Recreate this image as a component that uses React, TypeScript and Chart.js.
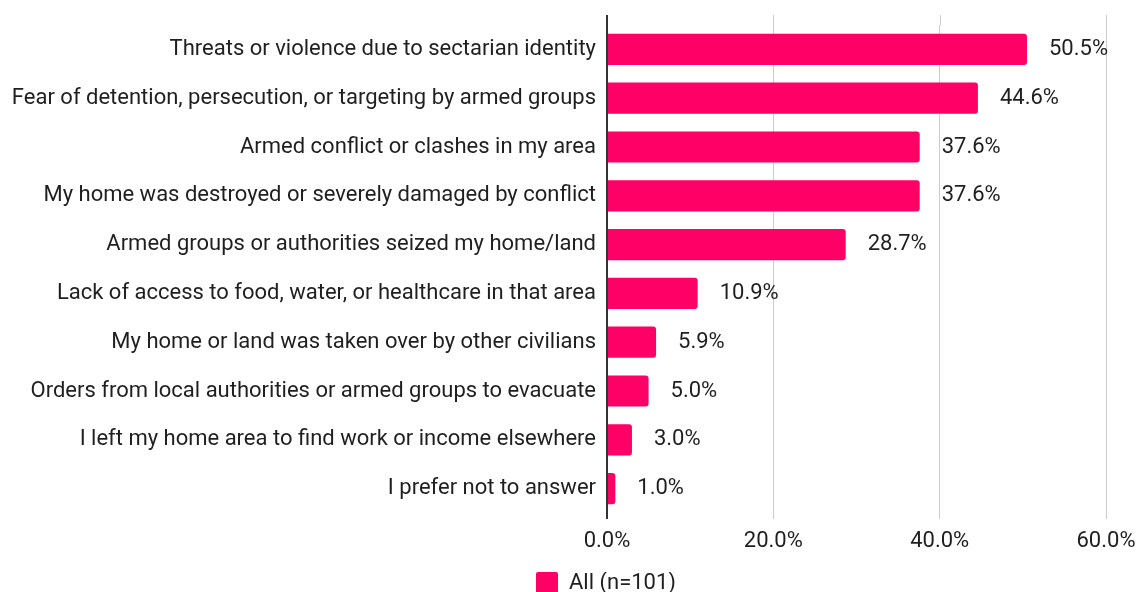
import React, { useEffect, useRef } from "react";
import { Chart, registerables } from "chart.js";

Chart.register(...registerables);

const categories: string[] = [
  "Threats or violence due to sectarian identity",
  "Fear of detention, persecution, or targeting by armed groups",
  "Armed conflict or clashes in my area",
  "My home was destroyed or severely damaged by conflict",
  "Armed groups or authorities seized my home/land",
  "Lack of access to food, water, or healthcare in that area",
  "My home or land was taken over by other civilians",
  "Orders from local authorities or armed groups to evacuate",
  "I left my home area to find work or income elsewhere",
  "I prefer not to answer",
];

const seriesLabel = "All (n=101)";
const values: number[] = [50.5, 44.6, 37.6, 37.6, 28.7, 10.9, 5.9, 5.0, 3.0, 1.0];
const xTicks: number[] = [0, 20, 40, 60];

const BAR_COLOR = "#FF0066";
const TEXT_COLOR = "#1f1f1f";
const FONT_FAMILY = "Roboto, 'Noto Sans', sans-serif";
const FONT_SIZE = 22;
const PAD_LEFT = 106;

const valueLabelPlugin = {
  id: "valueLabels",
  afterDatasetsDraw(chart: any) {
    const ctx = chart.ctx;
    const meta = chart.getDatasetMeta(0);
    ctx.save();
    ctx.font = `${FONT_SIZE}px ${FONT_FAMILY}`;
    ctx.fillStyle = TEXT_COLOR;
    ctx.textAlign = "left";
    ctx.textBaseline = "middle";
    meta.data.forEach((bar: any, i: number) => {
      ctx.fillText(values[i].toFixed(1) + "%", bar.x + 22, bar.y);
    });
    ctx.restore();
  },
};

const gridExtendPlugin = {
  id: "gridExtend",
  beforeDatasetsDraw(chart: any) {
    const ctx = chart.ctx;
    const xs = chart.scales.x;
    const top = chart.chartArea.top;
    ctx.save();
    xs.ticks.forEach((t: any) => {
      const zero = t.value === 0;
      const px = xs.getPixelForValue(t.value);
      ctx.strokeStyle = zero ? "#333333" : "#cccccc";
      ctx.lineWidth = zero ? 2 : 1;
      ctx.beginPath();
      ctx.moveTo(zero ? px : Math.round(px) + 0.5, top - 10);
      ctx.lineTo(zero ? px : Math.round(px) + 0.5, top);
      ctx.stroke();
    });
    ctx.restore();
  },
};

export default function App() {
  const canvasRef = useRef<HTMLCanvasElement | null>(null);

  useEffect(() => {
    if (!canvasRef.current) return;
    const chart = new Chart(canvasRef.current, {
      type: "bar",
      data: {
        labels: categories,
        datasets: [
          {
            label: seriesLabel,
            data: values,
            backgroundColor: BAR_COLOR,
            borderColor: BAR_COLOR,
            borderWidth: 0,
            borderRadius: 3,
            borderSkipped: "start",
            categoryPercentage: 1,
            barPercentage: 0.64,
          },
        ],
      },
      options: {
        indexAxis: "y",
        animation: false,
        responsive: true,
        maintainAspectRatio: false,
        layout: { padding: { top: 25, right: 31, left: PAD_LEFT, bottom: -12 } },
        scales: {
          x: {
            min: 0,
            max: 60,
            afterBuildTicks: (scale: any) => {
              scale.ticks = xTicks.map((v) => ({ value: v }));
            },
            afterFit: (scale: any) => {
              scale.height = 59;
              scale.paddingLeft = 0;
              scale.paddingRight = 0;
            },
            grid: {
              color: (c: any) => (c.tick && c.tick.value === 0 ? "#333333" : "#cccccc"),
              lineWidth: (c: any) => (c.tick && c.tick.value === 0 ? 2 : 1),
              drawTicks: true,
              tickLength: 6,
            },
            border: { display: false },
            ticks: {
              color: TEXT_COLOR,
              font: { family: FONT_FAMILY, size: FONT_SIZE },
              padding: 9,
              maxRotation: 0,
              callback: (v: any) => Number(v).toFixed(1) + "%",
            },
          },
          y: {
            grid: { display: false, drawTicks: false },
            border: { display: false },
            afterFit: (scale: any) => {
              scale.width = 607 - PAD_LEFT;
              scale.paddingTop = 0;
              scale.paddingBottom = 0;
              // let the long category labels extend past the axis box
              scale._computeLabelArea = () => undefined;
            },
            ticks: {
              color: TEXT_COLOR,
              font: { family: FONT_FAMILY, size: FONT_SIZE },
              padding: 11,
              autoSkip: false,
            },
          },
        },
        plugins: {
          legend: {
            display: true,
            position: "bottom",
            labels: {
              color: TEXT_COLOR,
              font: { family: FONT_FAMILY, size: FONT_SIZE },
              boxWidth: 22,
              boxHeight: 22,
              padding: 0,
              useBorderRadius: true,
              borderRadius: 2,
            },
          },
          tooltip: { enabled: false },
        },
      },
      plugins: [valueLabelPlugin, gridExtendPlugin],
    });
    return () => chart.destroy();
  }, []);

  return (
    <div style={{ position: "fixed", left: 0, top: 0, width: 1137, height: 592, background: "#ffffff" }}>
      <canvas ref={canvasRef} />
    </div>
  );
}
